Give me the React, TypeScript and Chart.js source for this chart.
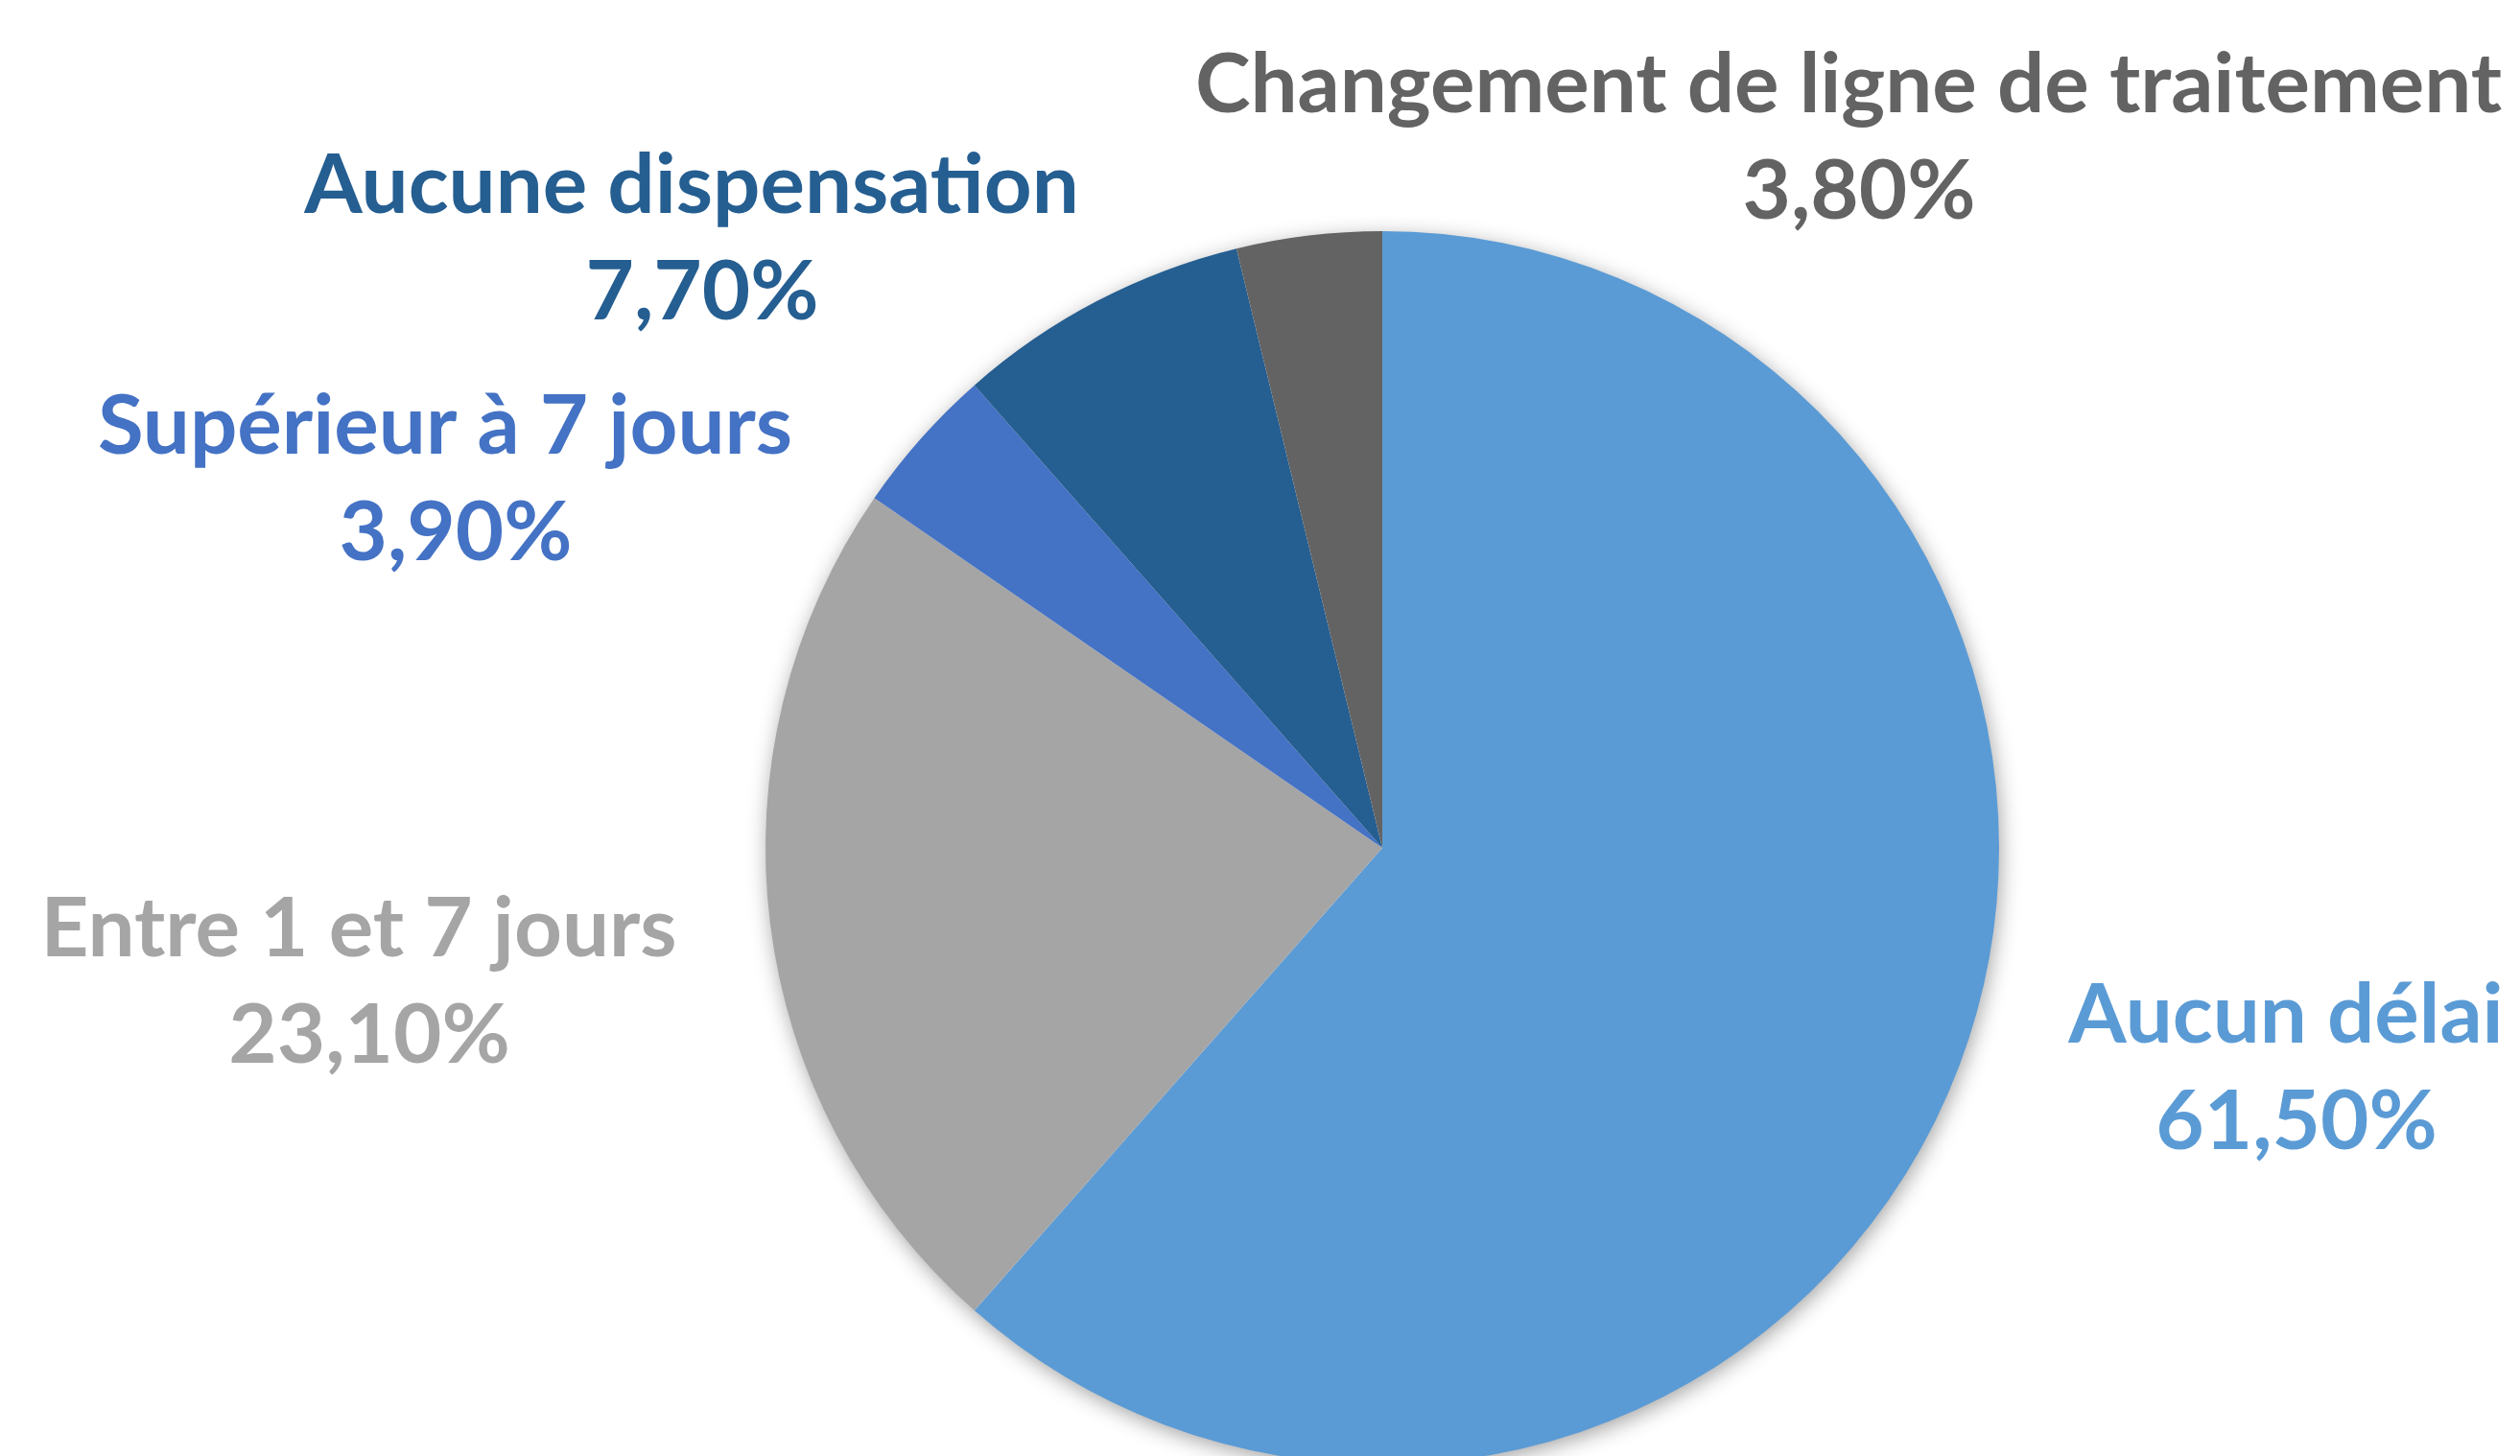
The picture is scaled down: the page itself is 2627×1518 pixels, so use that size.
import React, { useEffect, useRef } from "react";
import { Chart, registerables } from "chart.js";

Chart.register(...registerables);

const categories = [
  "Aucun délai",
  "Entre 1 et 7 jours",
  "Supérieur à 7 jours",
  "Aucune dispensation",
  "Changement de ligne de traitement",
];
const values = [61.5, 23.1, 3.9, 7.7, 3.8];
const colors = ["#5B9BD5", "#A5A5A5", "#4472C4", "#255E91", "#636363"];

const W = 2627;
const H = 1518;
const CH = 1540;

// label anchors: [center x of first line, baseline of first line]
const labelAnchors = [
  [2383, 1087],
  [374, 997],
  [464, 473],
  [721, 222],
  [1927, 117],
];

const fmt = (v: number) => v.toFixed(2).replace(".", ",") + "%";

const shadowPlugin = {
  id: "pieShadow",
  beforeDatasetsDraw(chart: any) {
    const meta = chart.getDatasetMeta(0);
    const arc = meta.data[0];
    if (!arc) return;
    const { x, y, outerRadius } = arc.getProps(["x", "y", "outerRadius"], true);
    const ctx = chart.ctx;
    ctx.save();
    ctx.shadowColor = "rgba(0,0,0,0.38)";
    ctx.shadowBlur = 22;
    ctx.shadowOffsetX = 2;
    ctx.shadowOffsetY = 5;
    ctx.fillStyle = "#ffffff";
    ctx.beginPath();
    ctx.arc(x, y, outerRadius - 1, 0, Math.PI * 2);
    ctx.fill();
    ctx.restore();
  },
};

const labelPlugin = {
  id: "pieLabels",
  afterDraw(chart: any, _args: any, opts: any) {
    const ctx = chart.ctx;
    const meta = chart.getDatasetMeta(0);
    ctx.save();
    ctx.font = opts.font;
    ctx.textAlign = "center";
    ctx.textBaseline = "alphabetic";
    meta.data.forEach((_el: any, i: number) => {
      const [cx, by] = opts.anchors[i];
      ctx.fillStyle = chart.data.datasets[0].backgroundColor[i];
      ctx.fillText(chart.data.labels[i], cx, by);
      ctx.fillText(fmt(chart.data.datasets[0].data[i]), cx + opts.secondDx, by + opts.lineHeight);
    });
    ctx.restore();
  },
};

export default function App() {
  const ref = useRef<HTMLCanvasElement | null>(null);

  useEffect(() => {
    document.body.style.margin = "0";
    document.body.style.overflow = "hidden";
    const canvas = ref.current;
    if (!canvas) return;
    const chart = new Chart(canvas, {
      type: "pie",
      data: {
        labels: categories,
        datasets: [
          {
            data: values,
            backgroundColor: colors,
            borderWidth: 0,
          },
        ],
      },
      options: {
        responsive: false,
        animation: false,
        devicePixelRatio: 1,
        layout: {
          padding: { left: 798, right: W - 2084, top: 241, bottom: CH - 241 - 1286 },
        },
        plugins: {
          legend: { display: false },
          tooltip: { enabled: false },
          pieLabels: {
            anchors: labelAnchors,
            font: "bold 87px Lato",
            lineHeight: 111,
            secondDx: 11,
          },
        } as any,
      },
      plugins: [shadowPlugin, labelPlugin],
    });
    return () => chart.destroy();
  }, []);

  return (
    <div
      style={{
        position: "absolute",
        left: 0,
        top: 0,
        width: W,
        height: H,
        overflow: "hidden",
        background: "#ffffff",
      }}
    >
      <canvas ref={ref} width={W} height={CH} style={{ display: "block", width: W, height: CH }} />
    </div>
  );
}
